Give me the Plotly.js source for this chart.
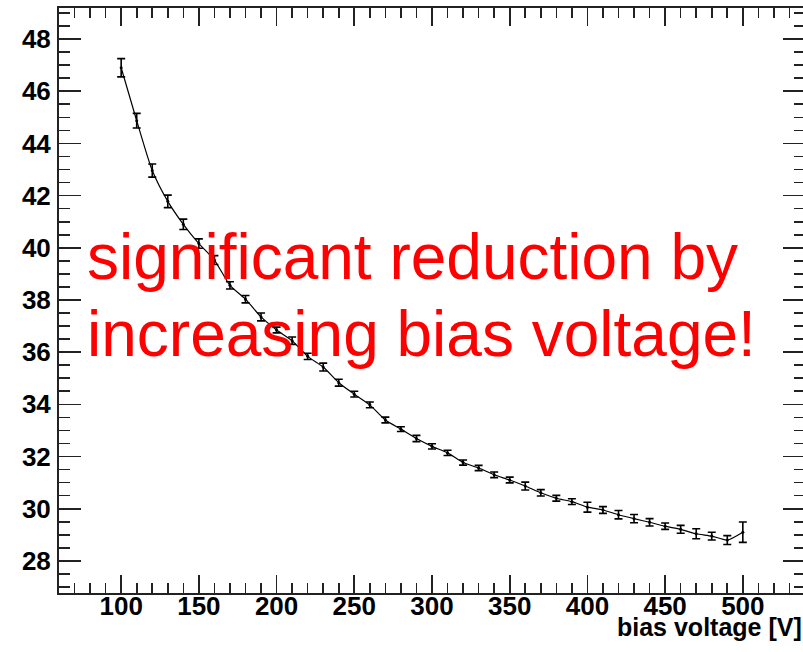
<!DOCTYPE html>
<html>
<head>
<meta charset="utf-8">
<script src="https://cdn.plot.ly/plotly-3.0.1.min.js"></script>
<style>
html,body{margin:0;padding:0;overflow:hidden;background:#fff;}
#chart{width:806px;height:652px;}
</style>
</head>
<body>
<div id="chart"></div>
<script>
// bias voltage [V]
var biasVoltage = [100,110,120,130,140,150,160,170,180,190,200,210,220,230,240,250,260,270,280,290,300,
                   310,320,330,340,350,360,370,380,390,400,410,420,430,440,450,460,470,480,490,500];
// measured values
var measured = [46.90,44.87,42.96,41.78,40.90,40.16,39.53,38.56,38.03,37.35,36.85,36.44,35.84,35.43,34.83,
                34.39,33.98,33.40,33.05,32.69,32.39,32.14,31.77,31.56,31.30,31.10,30.87,30.61,30.40,30.27,
                30.06,29.95,29.77,29.62,29.48,29.33,29.21,29.04,28.95,28.80,29.10];
// uncertainties
var uncertainty = [0.35,0.28,0.25,0.24,0.20,0.18,0.17,0.14,0.14,0.15,0.11,0.14,0.12,0.15,0.13,0.11,0.11,
                   0.11,0.09,0.12,0.10,0.10,0.10,0.10,0.11,0.11,0.15,0.12,0.11,0.11,0.19,0.13,0.16,0.16,
                   0.14,0.12,0.15,0.19,0.15,0.17,0.39];
var yTickVals = [28,30,32,34,36,38,40,42,44,46,48];
var xTickVals = [100,150,200,250,300,350,400,450,500];
var xTitle = 'bias voltage [V]';
var noteLine1 = 'significant reduction by';
var noteLine2 = 'increasing bias voltage!';

var tickFont = {family:'Liberation Sans, Arial, sans-serif', size:26, color:'#000', weight:'bold'};

var trace = {
  x: biasVoltage, y: measured, type:'scatter', mode:'lines+markers',
  line:{color:'#000', width:1.2, shape:'spline', smoothing:0.6},
  marker:{color:'#000', size:3},
  error_y:{type:'data', array:uncertainty, visible:true, color:'#000', thickness:1.6, width:4},
  showlegend:false, hoverinfo:'skip'
};

var layout = {
  width:806, height:652,
  margin:{l:59, r:1, t:8, b:59, pad:0},
  paper_bgcolor:'#fff', plot_bgcolor:'#fff',
  showlegend:false,
  xaxis:{
    range:[60,540], tickmode:'array', tickvals:xTickVals, ticktext:xTickVals.map(String),
    ticks:'inside', ticklen:18, tickwidth:1.6, tickcolor:'#222',
    minor:{dtick:10, tick0:0, ticks:'inside', ticklen:10, tickwidth:1.6, tickcolor:'#222'},
    showline:true, linecolor:'#222', linewidth:2, mirror:'allticks',
    showgrid:false, zeroline:false, tickfont:tickFont, ticklabelstandoff:-11
  },
  yaxis:{
    range:[26.77,49.19], tickmode:'array', tickvals:yTickVals, ticktext:yTickVals.map(String),
    ticks:'inside', ticklen:22, tickwidth:1.6, tickcolor:'#222',
    minor:{dtick:0.5, tick0:0, ticks:'inside', ticklen:11, tickwidth:1.6, tickcolor:'#222'},
    showline:true, linecolor:'#222', linewidth:2, mirror:'allticks',
    showgrid:false, zeroline:false, tickfont:tickFont, ticklabelstandoff:1
  },
  annotations:[
    {text:noteLine1, xref:'x', yref:'y', x:76.7, y:41.10, xanchor:'left', yanchor:'top', showarrow:false,
     font:{family:'Liberation Sans, Arial, sans-serif', size:64, color:'#ff0000'}},
    {text:noteLine2, xref:'x', yref:'y', x:76.7, y:38.15, xanchor:'left', yanchor:'top', showarrow:false,
     font:{family:'Liberation Sans, Arial, sans-serif', size:64, color:'#ff0000'}},
    {text:xTitle, xref:'paper', yref:'paper', x:0.999, y:-0.0855, xanchor:'right', yanchor:'bottom', showarrow:false,
     font:{family:'Liberation Sans, Arial, sans-serif', size:25, color:'#000', weight:'bold'}}
  ]
};

Plotly.newPlot('chart', [trace], layout, {staticPlot:true, displayModeBar:false});
</script>
</body>
</html>
